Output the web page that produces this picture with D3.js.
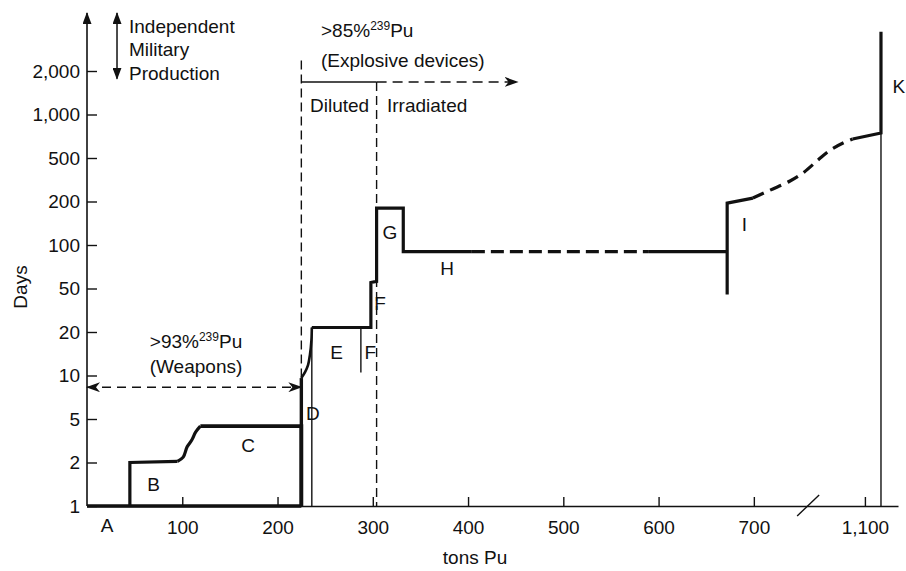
<!DOCTYPE html>
<html>
<head>
<meta charset="utf-8">
<script src="https://cdn.jsdelivr.net/npm/d3@7"></script>
<style>
  body { margin: 0; background: #fff; }
  svg text { font-family: "Liberation Sans", Arial, sans-serif; fill: #111; }
</style>
</head>
<body>
<svg id="chart" width="906" height="571"></svg>
<script>
// axis ticks
const dayTicks = [1, 2, 5, 10, 20, 50, 100, 200, 500, 1000, 2000];
const tonTicks = [100, 200, 300, 400, 500, 600, 700, 1100];

// main curve (tons Pu, days)
const baseTons = [0, 225];
const baseDays = [1, 1];
const bTons = [45, 45, 95];
const bDays = [1, 2, 2.05];
const bcTons = [95, 101, 105, 110, 114, 119];
const bcDays = [2.05, 2.24, 2.77, 3.21, 3.79, 4.3];
const cTons = [119, 225, 225];
const cDays = [4.3, 4.3, 1];
const dTons = [225, 225];
const dDays = [1, 9.6];
const dCurveTons = [225, 229, 232, 234, 235.6, 236];
const dCurveDays = [9.6, 10.6, 11.8, 13.9, 17.6, 22];
const efghTons = [236, 298, 298, 304, 304, 332, 332, 404];
const efghDays = [22, 22, 55, 56, 180, 180, 90, 90];
const hDashTons = [404, 589];
const hDashDays = [90, 90];
const hEndTons = [589, 672];
const hEndDays = [90, 90];
const iTons = [672, 672, 699];
const iDays = [44, 195, 215];
const iDashTons = [699, 717, 738, 753, 824, 934, 1053, 1087];
const iDashDays = [215, 254, 308, 373, 479, 566, 635, 677];
const kTons = [1087, 1117, 1117];
const kDays = [677, 745, 4560];

// thin lines
const thinDTons = [236, 236], thinDDays = [1, 22];
const thinFTons = [287.5, 287.5], thinFDays = [10.5, 22];
const thinKTons = [1117, 1117], thinKDays = [1, 745];

// guides
const weaponsTons = [0, 225], weaponsDays = 8.3;
const explosiveTons = [225, 304, 452], explosiveDays = 1680;
const guideTons = [225, 304], guideTopDays = [2500, 1680];

// segment letters
const letters = ["A", "B", "C", "D", "E", "F", "F", "G", "H", "I", "K"];
const letterTons = [21, 70, 169, 237, 262, 297.5, 307.5, 318, 378, 690, 1136];
const letterDays = [0.66, 1.27, 2.49, 4.9, 13, 13, 31.8, 110, 62, 125, 1408];

const svg = d3.select('#chart');
const bottom = 506, step = 43.5;

const yDomain = [...dayTicks, 5000, 10000];
const y = d3.scaleLog()
  .domain(yDomain)
  .range(yDomain.map((d, i) => bottom - i * step));

// broken x axis: 760..1080 squeezed
const x = d3.scaleLinear()
  .domain([0, 760, 1080, 1135])
  .range([87, 811, 846, 898]);

const fontSize = 19;

// axes
const yAxis = d3.axisLeft(y)
  .tickValues(dayTicks)
  .tickFormat(d3.format(','))
  .tickSizeInner(-10)
  .tickSizeOuter(0)
  .tickPadding(7);

const gy = svg.append('g')
  .attr('transform', `translate(${x(0)},0)`)
  .call(yAxis);
gy.select('.domain').remove();
gy.selectAll('line').attr('stroke', '#111').attr('stroke-width', 1.4);
gy.selectAll('text').attr('font-size', fontSize).attr('font-family', null);

const xAxis = d3.axisBottom(x)
  .tickValues(tonTicks)
  .tickFormat(d3.format(','))
  .tickSizeInner(-9)
  .tickSizeOuter(0)
  .tickPadding(15);

const gx = svg.append('g')
  .attr('transform', `translate(0,${bottom})`)
  .call(xAxis);
gx.select('.domain').attr('stroke', '#111').attr('stroke-width', 1.6);
gx.selectAll('line').attr('stroke', '#111').attr('stroke-width', 1.4);
gx.selectAll('text').attr('font-size', fontSize).attr('font-family', null);

// axis break slash
svg.append('line')
  .attr('x1', x(757) - 11).attr('y1', bottom + 10)
  .attr('x2', x(757) + 11).attr('y2', bottom - 11)
  .attr('stroke', '#111').attr('stroke-width', 1.4);

// markers
const defs = svg.append('defs');
defs.append('marker')
  .attr('id', 'notch')
  .attr('viewBox', '0 0 14 10')
  .attr('refX', 13).attr('refY', 5)
  .attr('markerWidth', 14).attr('markerHeight', 10)
  .attr('markerUnits', 'userSpaceOnUse')
  .attr('orient', 'auto-start-reverse')
  .append('path')
  .attr('d', 'M0,0 L14,5 L0,10 L4,5 Z')
  .attr('fill', '#111');
defs.append('marker')
  .attr('id', 'tri')
  .attr('viewBox', '0 0 12 9')
  .attr('refX', 11).attr('refY', 4.5)
  .attr('markerWidth', 12).attr('markerHeight', 9)
  .attr('markerUnits', 'userSpaceOnUse')
  .attr('orient', 'auto-start-reverse')
  .append('path')
  .attr('d', 'M0,0 L12,4.5 L0,9 Z')
  .attr('fill', '#111');

// y axis line with arrow
const topY = 13;
svg.append('line')
  .attr('x1', x(0)).attr('x2', x(0))
  .attr('y1', bottom).attr('y2', topY)
  .attr('stroke', '#111').attr('stroke-width', 1.6)
  .attr('marker-end', 'url(#tri)');

// dashed guide verticals
guideTons.forEach((t, i) => {
  svg.append('line')
    .attr('x1', x(t)).attr('x2', x(t))
    .attr('y1', y(guideTopDays[i])).attr('y2', y(1))
    .attr('stroke', '#111').attr('stroke-width', 1.4)
    .attr('stroke-dasharray', '9,5');
});

// weapons double arrow
svg.append('line')
  .attr('x1', x(weaponsTons[0])).attr('x2', x(weaponsTons[1]))
  .attr('y1', y(weaponsDays)).attr('y2', y(weaponsDays))
  .attr('stroke', '#111').attr('stroke-width', 1.5)
  .attr('stroke-dasharray', '9,6')
  .attr('marker-start', 'url(#notch)')
  .attr('marker-end', 'url(#notch)');

// explosive arrow
svg.append('line')
  .attr('x1', x(explosiveTons[0])).attr('x2', x(explosiveTons[1]))
  .attr('y1', y(explosiveDays)).attr('y2', y(explosiveDays))
  .attr('stroke', '#111').attr('stroke-width', 1.5);
svg.append('line')
  .attr('x1', x(explosiveTons[1])).attr('x2', x(explosiveTons[2]))
  .attr('y1', y(explosiveDays)).attr('y2', y(explosiveDays))
  .attr('stroke', '#111').attr('stroke-width', 1.5)
  .attr('stroke-dasharray', '10,6')
  .attr('marker-end', 'url(#notch)');

// independent production double arrow
svg.append('line')
  .attr('x1', x(31.5)).attr('x2', x(31.5))
  .attr('y1', y(1765)).attr('y2', topY)
  .attr('stroke', '#111').attr('stroke-width', 1.5)
  .attr('marker-start', 'url(#tri)')
  .attr('marker-end', 'url(#tri)');

// line drawing helper
const straight = d3.line().x(d => x(d[0])).y(d => y(d[1]));
const smooth = d3.line().x(d => x(d[0])).y(d => y(d[1])).curve(d3.curveCatmullRom);

function draw(tons, days, opts) {
  const pts = d3.zip(tons, days);
  svg.append('path')
    .attr('d', (opts.smooth ? smooth : straight)(pts))
    .attr('fill', 'none')
    .attr('stroke', '#111')
    .attr('stroke-width', opts.w || 3.2)
    .attr('stroke-linejoin', 'miter')
    .attr('stroke-dasharray', opts.dash || null);
}

draw(thinDTons, thinDDays, { w: 1.4 });
draw(thinFTons, thinFDays, { w: 1.4 });
draw(thinKTons, thinKDays, { w: 1.4 });

draw(baseTons, baseDays, { w: 3.6 });
draw(bTons, bDays, {});
draw(bcTons, bcDays, { smooth: true });
draw(cTons, cDays, { w: 3.8 });
draw(dTons, dDays, { w: 3.4 });
draw(dCurveTons, dCurveDays, { smooth: true, w: 2.6 });
draw(efghTons, efghDays, {});
draw(hDashTons, hDashDays, { dash: '13,6' });
draw(hEndTons, hEndDays, {});
draw(iTons, iDays, {});
draw(iDashTons, iDashDays, { smooth: true, dash: '12,7' });
draw(kTons, kDays, {});

// segment letters
svg.append('g').selectAll('text')
  .data(letters)
  .join('text')
  .attr('x', (d, i) => x(letterTons[i]))
  .attr('y', (d, i) => y(letterDays[i]))
  .attr('text-anchor', 'middle')
  .attr('font-size', fontSize)
  .text(d => d);

// annotations
function supText(xp, yp, pre, anchor) {
  const t = svg.append('text')
    .attr('x', xp).attr('y', yp)
    .attr('font-size', fontSize)
    .attr('text-anchor', anchor);
  t.append('tspan').text(pre);
  t.append('tspan').attr('font-size', 12).attr('dy', -7).text('239');
  t.append('tspan').attr('dy', 7).text('Pu');
}
function plain(xp, yp, s, anchor) {
  svg.append('text')
    .attr('x', xp).attr('y', yp)
    .attr('font-size', fontSize)
    .attr('text-anchor', anchor || 'start')
    .text(s);
}

supText(196, 348, '>93%', 'middle');
plain(196, 373, '(Weapons)', 'middle');
supText(321, 37, '>85%', 'start');
plain(321, 67, '(Explosive devices)');
plain(310, 112, 'Diluted');
plain(387, 112, 'Irradiated');
plain(129, 33, 'Independent');
plain(129, 56, 'Military');
plain(129, 80, 'Production');

// axis titles
plain(475, 564, 'tons Pu', 'middle');
svg.append('text')
  .attr('transform', 'translate(27,287) rotate(-90)')
  .attr('text-anchor', 'middle')
  .attr('font-size', fontSize)
  .text('Days');
</script>
</body>
</html>
